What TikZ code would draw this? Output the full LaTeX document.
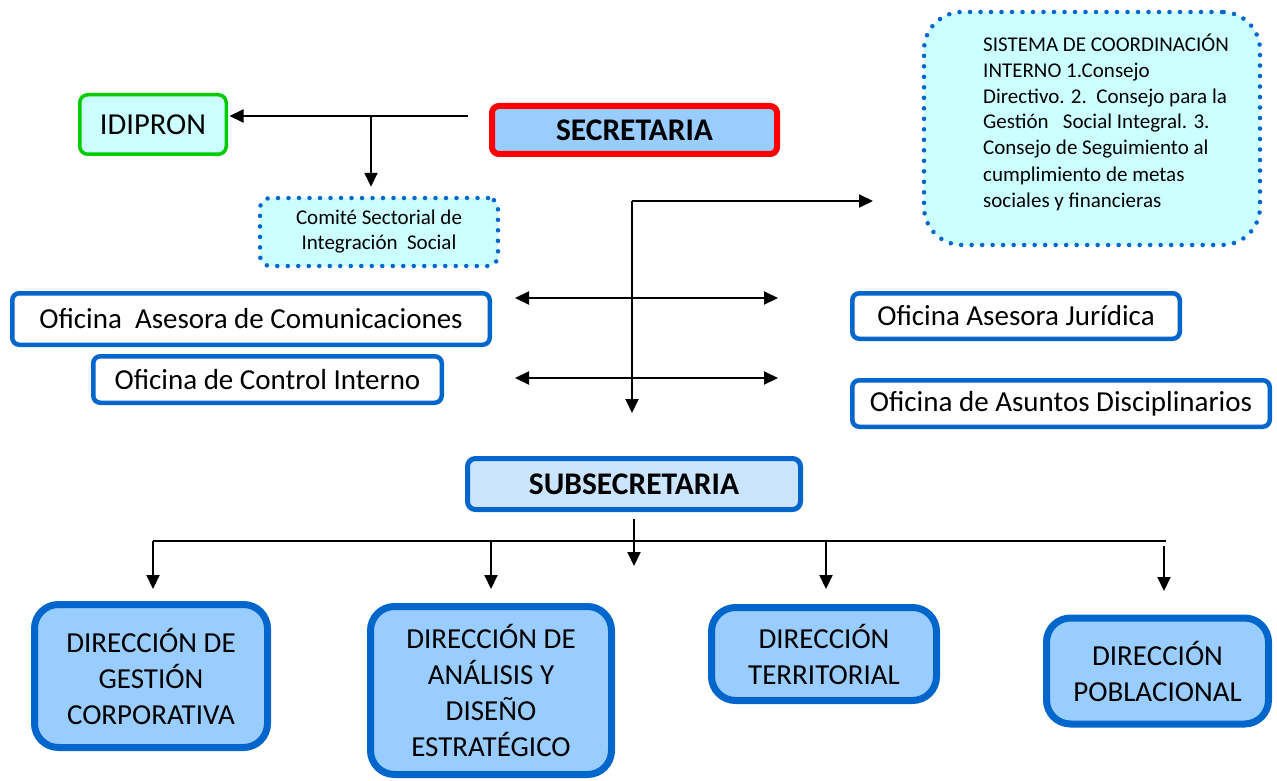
\documentclass[tikz,border=0pt]{standalone}
\usepackage{fontspec}
\setmainfont{Carlito}
\usetikzlibrary{arrows.meta}
\definecolor{ofblue}{HTML}{0066CC}
\definecolor{dirfill}{HTML}{99CCFF}
\definecolor{palecyan}{HTML}{CCFFFF}
\definecolor{subfill}{HTML}{CCE5FF}
\definecolor{idigreen}{HTML}{00CC00}
\tikzset{
  bigtext/.style={font=\fontsize{29}{36}\selectfont},
  boldtext/.style={font=\fontsize{31.5}{38}\selectfont\bfseries},
  smalltext/.style={font=\fontsize{21}{25}\selectfont},
  oficina/.style={draw=ofblue, line width=4.5pt, rounded corners=7pt, fill=white, inner sep=0pt, bigtext},
  direccion/.style={draw=ofblue, line width=7pt, rounded corners=24pt, fill=dirfill, inner sep=0pt, align=center, bigtext},
  punteado/.style={draw=ofblue, line width=4.5pt, dash pattern=on 0pt off 10.5pt, line cap=round, fill=palecyan, inner sep=0pt},
  flecha/.style={line width=2pt, -{Triangle[width=13pt,length=14pt]}},
  dobleflecha/.style={line width=2pt, {Triangle[width=13pt,length=14pt]}-{Triangle[width=13pt,length=14pt]}},
}
\begin{document}
\begin{tikzpicture}[x=1pt,y=-1pt]
         \useasboundingbox (0,0) rectangle (1277,781);
         \node[draw=idigreen, line width=3.5pt, rounded corners=8pt, fill=palecyan, inner sep=0pt,
               minimum width=146.5pt, minimum height=59.5pt, font=\fontsize{30.5}{36}\selectfont, name=idipron] at (153,124.5) {IDIPRON};
         \node[draw=red, line width=6pt, rounded corners=7pt, fill=dirfill, inner sep=0pt,
               minimum width=285pt, minimum height=48pt, boldtext, name=secretaria] at (634.5,130) {SECRETARIA};
         \node[punteado, rounded corners=10pt, minimum width=238pt, minimum height=68pt,
               smalltext, align=center, name=comite] at (379,232) {Comité Sectorial de\\Integración\ \ Social};
         \node[punteado, rounded corners=38pt, minimum width=336pt, minimum height=233pt, name=sistema] at (1092,128.5) {};
         \node[align=left, inner sep=0pt, anchor=base west, font=\fontsize{21}{26}\selectfont, name=sistematxt] at (983,207)
               {SISTEMA DE COORDINACIÓN\\INTERNO 1.Consejo\\Directivo. 2.\ \ Consejo para la\\Gestión\ \ \ Social Integral. 3.\\Consejo de Seguimiento al\\cumplimiento de metas\\sociales y financieras};

         \node[oficina, minimum width=477.5pt, minimum height=51.5pt, name=comunic] at (251,319) {Oficina\ \ Asesora de Comunicaciones};
         \node[oficina, minimum width=348.5pt, minimum height=46.5pt, name=control] at (267.5,379.5) {Oficina de Control Interno};
         \node[oficina, minimum width=327.5pt, minimum height=45.5pt, name=juridica] at (1016,316) {Oficina Asesora Jurídica};
         \node[oficina, minimum width=417.5pt, minimum height=46.5pt, name=disciplina] at (1061,403.5) {Oficina de Asuntos Disciplinarios};

         \node[draw=ofblue, line width=5pt, rounded corners=8pt, fill=subfill, inner sep=0pt,
               minimum width=333pt, minimum height=51pt, boldtext, name=subsecretaria] at (634,484) {SUBSECRETARIA};

         \node[direccion, minimum width=233pt, minimum height=143pt, name=gestion] at (151,676) {DIRECCIÓN DE\\GESTIÓN\\CORPORATIVA};
         \node[direccion, minimum width=241pt, minimum height=168pt, name=analisis] at (491,690.5) {DIRECCIÓN DE\\ANÁLISIS Y\\DISEÑO\\ESTRATÉGICO};
         \node[direccion, minimum width=225pt, minimum height=93pt, name=territorial] at (824,654) {DIRECCIÓN\\TERRITORIAL};
         \node[direccion, minimum width=222pt, minimum height=106pt, name=poblacional] at (1157.5,671) {DIRECCIÓN\\POBLACIONAL};

         \coordinate (sec-left) at (468,116);
         \coordinate (sec-branch) at (371,116);
         \coordinate (eje-top) at (632,201);
         \coordinate (eje-right) at (873,201);
         \coordinate (eje-bottom) at (632,413);
         \coordinate (izq-a) at (515,298);
         \coordinate (der-a) at (778,298);
         \coordinate (izq-b) at (515,378);
         \coordinate (der-b) at (778,378);
         \coordinate (sub-top) at (634,519);
         \coordinate (sub-bottom) at (634,566);
         \coordinate (barra-left) at (153,541);
         \coordinate (barra-right) at (1166,541);

         \draw[flecha, shorten >=1.5pt] (sec-left) -- (sec-left -| idipron.east);
         \draw[flecha, shorten >=9pt] (sec-branch) -- (sec-branch |- comite.north);
         \draw[flecha] (eje-top) -- (eje-right);
         \draw[flecha] (eje-top) -- (eje-bottom);
         \draw[dobleflecha] (izq-a) -- (der-a);
         \draw[dobleflecha] (izq-b) -- (der-b);
         \draw[line width=2pt] (barra-left) -- (barra-right);
         \draw[flecha] (sub-top) -- (sub-bottom);
         \foreach \x/\y/\fin in {153/541/589, 491/541/589, 826/541/589, 1164/546/591}
            \draw[flecha] (\x,\y) -- (\x,\fin);
\end{tikzpicture}
\end{document}
